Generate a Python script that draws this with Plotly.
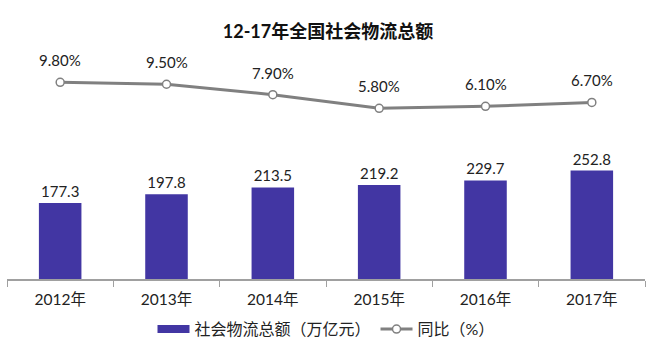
import plotly.graph_objects as go

years = ["2012年", "2013年", "2014年", "2015年", "2016年", "2017年"]
totals = [177.3, 197.8, 213.5, 219.2, 229.7, 252.8]
growth = [9.80, 9.50, 7.90, 5.80, 6.10, 6.70]
growth_labels = ["9.80%", "9.50%", "7.90%", "5.80%", "6.10%", "6.70%"]

FONT = "Lato, 'Noto Sans CJK SC', sans-serif"
BAR_COLOR = "#4236A3"
LINE_COLOR = "#808080"

fig = go.Figure()
fig.add_trace(go.Bar(
    x=years, y=totals, name="社会物流总额（万亿元）",
    marker=dict(color=BAR_COLOR, line=dict(width=0)),
    width=0.4, showlegend=False,
    text=[f"{v:.1f}" for v in totals], textposition="outside",
    textfont=dict(size=15, color="#222222", family=FONT),
    cliponaxis=False,
))
# legend entry for bars (wide rectangle symbol)
fig.add_trace(go.Scatter(
    x=[None], y=[None], name="社会物流总额（万亿元）", mode="lines",
    line=dict(color=BAR_COLOR, width=8),
))
fig.add_trace(go.Scatter(
    x=years, y=growth, name="同比（%）", yaxis="y2",
    mode="lines+markers",
    line=dict(color=LINE_COLOR, width=3),
    marker=dict(size=8, color="white", line=dict(color=LINE_COLOR, width=1.5)),
    cliponaxis=False,
))
for x, v, t in zip(years, growth, growth_labels):
    fig.add_annotation(x=x, y=v, yref="y2", text=t, showarrow=False,
                       yshift=22, font=dict(size=15, color="#222222", family=FONT))

fig.update_layout(
    width=656, height=352,
    margin=dict(l=7, r=11, t=40, b=73, autoexpand=False),
    paper_bgcolor="white", plot_bgcolor="white",
    title=dict(text="<b>12-17年全国社会物流总额</b>", x=0.5, xanchor="center",
               y=0.91, yanchor="middle",
               font=dict(size=18, color="#111111", family=FONT)),
    bargap=0.6,
    showlegend=True,
    legend=dict(orientation="h", x=0.5, xanchor="center", yref="container",
                y=0.065, yanchor="middle",
                font=dict(size=16, color="#222222", family=FONT),
                itemwidth=32, tracegroupgap=0),
    xaxis=dict(showline=True, linecolor="#A0A0A0", linewidth=1.5,
               ticks="outside", tickson="boundaries", ticklen=6, tickcolor="#A0A0A0",
               ticklabelstandoff=6,
               tickfont=dict(size=15.5, color="#222222", family=FONT), showgrid=False),
    yaxis=dict(range=[0, 557], visible=False, showgrid=False),
    yaxis2=dict(range=[-20.46, 16.31], overlaying="y", visible=False, showgrid=False),
)

fig.write_html("out.html")
